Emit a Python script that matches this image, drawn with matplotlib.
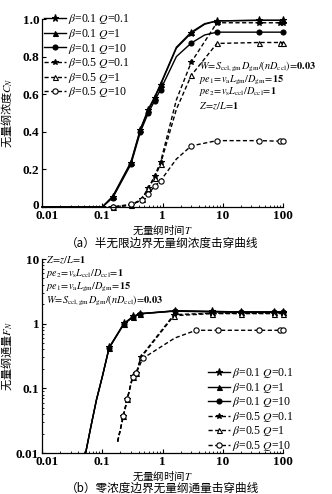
import matplotlib
matplotlib.use("Agg")
import matplotlib.pyplot as plt
import matplotlib.transforms as mtransforms
from matplotlib.ticker import FixedLocator, FuncFormatter, LogLocator, NullFormatter

plt.rcParams['font.family'] = ['Liberation Serif', 'Noto Sans CJK SC']
plt.rcParams['mathtext.fontset'] = 'stix'
plt.rcParams['axes.linewidth'] = 0.9

# ---------- (a) concentration breakthrough, semi-infinite boundary ----------
T_a_b1 = [0.01, 0.1, 0.15, 0.3, 0.43, 0.58, 0.74, 0.93, 1.7, 3, 5, 8, 40, 100]
mark_a_b1 = [False, False, True, True, True, True, True, True, False, True, False, True, True, True]
C_b1_q01 = [0, 0, 0.055, 0.235, 0.41, 0.515, 0.58, 0.65, 0.845, 0.925, 0.972, 0.99, 0.993, 0.993]
C_b1_q1 = [0, 0, 0.058, 0.24, 0.415, 0.52, 0.585, 0.655, 0.85, 0.93, 0.975, 0.99, 0.993, 0.993]
C_b1_q10 = [0, 0, 0.05, 0.228, 0.40, 0.50, 0.565, 0.625, 0.80, 0.872, 0.915, 0.93, 0.93, 0.93]

T_a_b5 = [0.01, 0.15, 0.3, 0.45, 0.58, 0.74, 0.93, 1.7, 3, 8, 40, 90, 100]
mark_a_b5 = [False, True, True, True, True, True, True, False, True, True, True, True, True]
C_b5_q01 = [0, 0, 0.01, 0.04, 0.10, 0.165, 0.24, 0.57, 0.77, 0.98, 0.98, 0.98, 0.98]
C_b5_q1 = [0, 0, 0.01, 0.04, 0.10, 0.155, 0.23, 0.52, 0.70, 0.87, 0.875, 0.875, 0.875]
C_b5_q10 = [0, 0, 0.015, 0.035, 0.07, 0.11, 0.14, 0.255, 0.325, 0.353, 0.353, 0.35, 0.35]

# ---------- (b) flux breakthrough, zero-concentration boundary ----------
T_b_b1 = [0.053, 0.065, 0.08, 0.1, 0.13, 0.23, 0.33, 0.42, 1.6, 6.6, 20, 70, 100]
mark_b_b1 = [False, False, False, False, True, True, True, True, True, True, True, True, True]
F_b1_q01 = [0.01, 0.026, 0.066, 0.15, 0.43, 1.02, 1.30, 1.43, 1.58, 1.55, 1.52, 1.52, 1.52]
F_b1_q1 = [0.01, 0.026, 0.066, 0.15, 0.42, 1.00, 1.28, 1.42, 1.56, 1.52, 1.50, 1.50, 1.50]
F_b1_q10 = [0.01, 0.026, 0.066, 0.15, 0.42, 1.00, 1.28, 1.42, 1.58, 1.54, 1.52, 1.52, 1.52]

T_b_b5 = [0.18, 0.225, 0.26, 0.32, 0.37, 0.44, 1.55, 6.6, 20, 70, 100]
mark_b_b5 = [False, True, True, True, True, True, True, True, True, True, True]
F_b5_q01 = [0.015, 0.038, 0.068, 0.155, 0.175, 0.31, 1.38, 1.45, 1.45, 1.45, 1.45]
F_b5_q1 = [0.015, 0.038, 0.068, 0.15, 0.175, 0.30, 1.33, 1.43, 1.43, 1.43, 1.43]

T_b_b5_q10 = [0.18, 0.225, 0.26, 0.32, 0.37, 0.47, 1.6, 3.6, 8.5, 40, 90, 100]
mark_b_b5_q10 = [False, True, True, True, True, True, False, True, True, True, True, True]
F_b5_q10 = [0.015, 0.038, 0.068, 0.15, 0.175, 0.29, 0.60, 0.79, 0.79, 0.79, 0.79, 0.79]

labels = [r'$\beta$=0.1 $Q$=0.1', r'$\beta$=0.1 $Q$=1', r'$\beta$=0.1 $Q$=10',
          r'$\beta$=0.5 $Q$=0.1', r'$\beta$=0.5 $Q$=1', r'$\beta$=0.5 $Q$=10']

x_ticks = [0.01, 0.1, 1, 10, 100]

dash = (0, (3, 1.8))
styles = [
    dict(ls='-', marker='*', ms=5.2, mfc='k'),
    dict(ls='-', marker='^', ms=3.6, mfc='k'),
    dict(ls='-', marker='o', ms=3.6, mfc='k'),
    dict(ls=dash, marker='*', ms=4.2, mfc='k'),
    dict(ls=dash, marker='^', ms=3.6, mfc='white'),
    dict(ls=dash, marker='o', ms=3.8, mfc='white'),
]

W_px, H_px = 332, 494
fig = plt.figure(figsize=(W_px / 100, H_px / 100), dpi=100)


def px_axes(x0, y0, x1, y1):
    return fig.add_axes([x0 / W_px, 1 - y1 / H_px, (x1 - x0) / W_px, (y1 - y0) / H_px])


def shift(label, dx_px, dy_px):
    label.set_transform(label.get_transform() +
                        mtransforms.ScaledTranslation(dx_px / 100, dy_px / 100,
                                                      fig.dpi_scale_trans))


def style_axes(ax):
    for s in ('top', 'right'):
        ax.spines[s].set_visible(False)
    ax.set_xscale('log')
    ax.set_xlim(0.01, 100)
    ax.xaxis.set_major_locator(FixedLocator(x_ticks))
    ax.xaxis.set_major_formatter(FuncFormatter(lambda v, p: '%g' % v))
    ax.xaxis.set_minor_locator(LogLocator(base=10, subs=range(2, 10)))
    ax.xaxis.set_minor_formatter(NullFormatter())
    ax.tick_params(which='major', direction='in', length=3, width=0.8, labelsize=9.5, pad=2)
    ax.tick_params(which='minor', direction='in', length=1.5, width=0.6)
    for lab in ax.get_xticklabels() + ax.get_yticklabels():
        lab.set_fontweight('bold')
    # nudge the leftmost x label clear of the y-axis labels
    shift(ax.get_xticklabels()[0], 5, 0)


def draw(ax, T, V, mask, st, label):
    ax.plot(T, V, color='k', lw=1.0, ls=st['ls'], marker=st['marker'], ms=st['ms'],
            mfc=st['mfc'], mec='k', mew=0.8, markevery=mask, clip_on=False, label=label,
            dash_capstyle='butt')


# ----- panel (a) -----
ax1 = px_axes(42, 19, 283, 207)
draw(ax1, T_a_b1, C_b1_q01, mark_a_b1, styles[0], labels[0])
draw(ax1, T_a_b1, C_b1_q1, mark_a_b1, styles[1], labels[1])
draw(ax1, T_a_b1, C_b1_q10, mark_a_b1, styles[2], labels[2])
draw(ax1, T_a_b5, C_b5_q01, mark_a_b5, styles[3], labels[3])
draw(ax1, T_a_b5, C_b5_q1, mark_a_b5, styles[4], labels[4])
draw(ax1, T_a_b5, C_b5_q10, mark_a_b5, styles[5], labels[5])
ax1.set_ylim(0, 1.0)
ax1.yaxis.set_major_locator(FixedLocator([0, 0.2, 0.4, 0.6, 0.8, 1.0]))
ax1.yaxis.set_major_formatter(FuncFormatter(lambda v, p: '0' if v == 0 else '%.1f' % v))
style_axes(ax1)
shift(ax1.get_yticklabels()[0], 0, 3)
ax1.set_xlabel('无量纲时间$T$', family=['Noto Sans CJK SC'], fontsize=7.5, labelpad=1)
ax1.set_ylabel('无量纲浓度$C_N$', family=['Noto Sans CJK SC'], fontsize=8)
ax1.yaxis.set_label_coords(-0.115, 0.5)
ax1.legend(loc='upper left', bbox_to_anchor=(0.01, 1.035), frameon=False, fontsize=8.5,
           handlelength=1.8, handletextpad=0.2, labelspacing=0.05, borderpad=0,
           borderaxespad=0, numpoints=1)

fig.text(162 / W_px, 1 - 243 / H_px, '（a）半无限边界无量纲浓度击穿曲线',
         family=['Noto Sans CJK SC'], fontsize=8.4, ha='center', va='center')

ann_a = [
    (199, 67, r'$W\!=\!S_{\rm ccl,gm}D_{\rm gm}/(nD_{\rm ccl})\!=\!\mathbf{0.03}$'),
    (199, 80, r'$pe_1\!=\!v_{\rm a}L_{\rm gm}/D_{\rm gm}\!=\!\mathbf{15}$'),
    (199, 92, r'$pe_2\!=\!v_{\rm s}L_{\rm ccl}/D_{\rm ccl}\!=\!\mathbf{1}$'),
    (199, 106, r'$Z\!=\!z/L\!=\!\mathbf{1}$'),
]
for x, y, s in ann_a:
    fig.text(x / W_px, 1 - y / H_px, s, fontsize=7.4, ha='left', va='center')

# ----- panel (b) -----
ax2 = px_axes(42, 259, 283, 453)
draw(ax2, T_b_b1, F_b1_q01, mark_b_b1, styles[0], labels[0])
draw(ax2, T_b_b1, F_b1_q1, mark_b_b1, styles[1], labels[1])
draw(ax2, T_b_b1, F_b1_q10, mark_b_b1, styles[2], labels[2])
draw(ax2, T_b_b5, F_b5_q01, mark_b_b5, styles[3], labels[3])
draw(ax2, T_b_b5, F_b5_q1, mark_b_b5, styles[4], labels[4])
draw(ax2, T_b_b5_q10, F_b5_q10, mark_b_b5_q10, styles[5], labels[5])
ax2.set_yscale('log')
ax2.set_ylim(0.01, 10)
ax2.yaxis.set_major_locator(FixedLocator([0.01, 0.1, 1, 10]))
ax2.yaxis.set_major_formatter(FuncFormatter(lambda v, p: '%g' % v))
ax2.yaxis.set_minor_locator(LogLocator(base=10, subs=range(2, 10)))
ax2.yaxis.set_minor_formatter(NullFormatter())
style_axes(ax2)
ax2.set_xlabel('无量纲时间$T$', family=['Noto Sans CJK SC'], fontsize=7.5, labelpad=1)
ax2.set_ylabel('无量纲通量$F_N$', family=['Noto Sans CJK SC'], fontsize=8)
ax2.yaxis.set_label_coords(-0.115, 0.5)
ax2.legend(loc='lower right', bbox_to_anchor=(1.045, 0.0), frameon=False, fontsize=8.5,
           handlelength=1.8, handletextpad=0.2, labelspacing=0.05, borderpad=0,
           borderaxespad=0, numpoints=1)

fig.text(162 / W_px, 1 - 488 / H_px, '（b）零浓度边界无量纲通量击穿曲线',
         family=['Noto Sans CJK SC'], fontsize=8.4, ha='center', va='center')

ann_b = [
    (46, 260, r'$Z\!=\!z/L\!=\!\mathbf{1}$'),
    (46, 273, r'$pe_2\!=\!v_{\rm s}L_{\rm ccl}/D_{\rm ccl}\!=\!\mathbf{1}$'),
    (46, 287, r'$pe_1\!=\!v_{\rm a}L_{\rm gm}/D_{\rm gm}\!=\!\mathbf{15}$'),
    (46, 301, r'$W\!=\!S_{\rm ccl,gm}D_{\rm gm}/(nD_{\rm ccl})\!=\!\mathbf{0.03}$'),
]
for x, y, s in ann_b:
    fig.text(x / W_px, 1 - y / H_px, s, fontsize=7.4, ha='left', va='center')

fig.savefig('out.png', dpi=100)
